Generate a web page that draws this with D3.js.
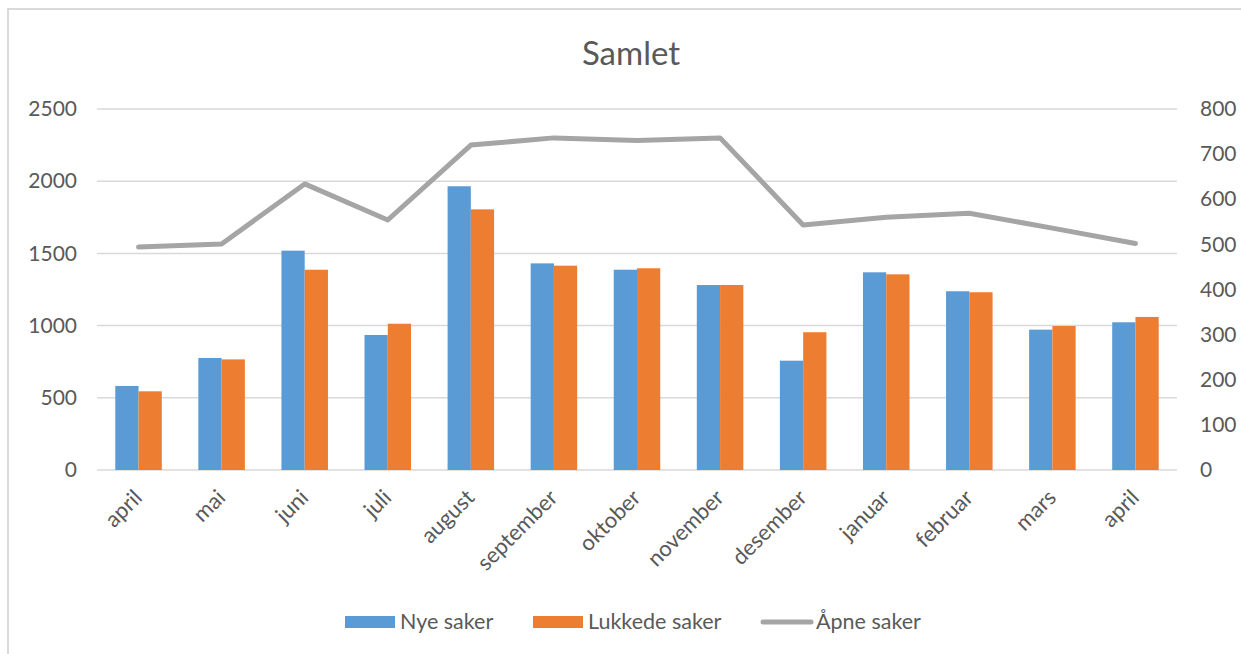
<!DOCTYPE html>
<html>
<head>
<meta charset="utf-8">
<script src="https://cdn.jsdelivr.net/npm/d3@7"></script>
<style>
  body { margin: 0; background: #fff; }
  text { font-family: Lato, "Open Sans", sans-serif; fill: #595959; }
</style>
</head>
<body>
<script>
// months (note: april appears twice, so we key the scale by index)
var months = ['april', 'mai', 'juni', 'juli', 'august', 'september', 'oktober',
    'november', 'desember', 'januar', 'februar', 'mars', 'april'];

// left axis series
var nyeSaker = [582, 776, 1519, 935, 1965, 1431, 1387, 1281, 757, 1369, 1238, 972, 1023];
var lukkedeSaker = [545, 766, 1387, 1013, 1805, 1415, 1397, 1281, 954, 1355, 1231, 997, 1060];

// right axis series
var apneSaker = [494, 501, 634, 554, 720, 736, 730, 736, 543, 560, 569, 536, 502];

var leftTicks = [0, 500, 1000, 1500, 2000, 2500];
var rightTicks = [0, 100, 200, 300, 400, 500, 600, 700, 800];

var W = 1241, H = 654;
var plot = { left: 97, right: 1177, top: 109, bottom: 470 };

var svg = d3.select('body').append('svg')
    .attr('width', W)
    .attr('height', H);

// light frame round the chart, like the Excel chart area
svg.append('rect')
    .attr('x', 8).attr('y', 9)
    .attr('width', W + 20).attr('height', H + 20)
    .attr('fill', 'none')
    .attr('stroke', '#d9d9d9')
    .attr('stroke-width', 2);

// scales
var x = d3.scaleBand()
    .domain(d3.range(months.length))
    .range([plot.left, plot.right])
    .paddingInner(0.44)
    .paddingOuter(0.22);

var xSub = d3.scaleBand()
    .domain(['nye', 'lukkede'])
    .range([0, x.bandwidth()]);

var yLeft = d3.scaleLinear().domain([0, 2500]).range([plot.bottom, plot.top]);
var yRight = d3.scaleLinear().domain([0, 800]).range([plot.bottom, plot.top]);

// title
svg.append('text')
    .attr('x', 631)
    .attr('y', 65)
    .attr('text-anchor', 'middle')
    .style('font-size', '33px')
    .text('Samlet');

// gridlines from the left axis
svg.append('g')
    .selectAll('line')
    .data(leftTicks)
    .enter().append('line')
    .attr('x1', plot.left)
    .attr('x2', plot.right)
    .attr('y1', function(d) { return yLeft(d); })
    .attr('y2', function(d) { return yLeft(d); })
    .attr('stroke', '#d9d9d9')
    .attr('stroke-width', 1.5);

// left axis labels
var axLeft = svg.append('g')
    .attr('transform', 'translate(' + (plot.left - 20) + ',0)')
    .call(d3.axisLeft(yLeft).tickValues(leftTicks).tickFormat(d3.format('d')).tickSize(0).tickPadding(0));
axLeft.select('.domain').remove();
axLeft.selectAll('text').style('font-size', '21px').style('font-family', null).attr('fill', null);

// right axis labels
var axRight = svg.append('g')
    .attr('transform', 'translate(' + (plot.right + 23) + ',0)')
    .call(d3.axisRight(yRight).tickValues(rightTicks).tickFormat(d3.format('d')).tickSize(0).tickPadding(0));
axRight.select('.domain').remove();
axRight.selectAll('text').style('font-size', '21px').style('font-family', null).attr('fill', null);

// grouped bars
var groups = svg.append('g')
    .selectAll('g')
    .data(months)
    .enter().append('g')
    .attr('transform', function(d, i) { return 'translate(' + x(i) + ',0)'; });

groups.append('rect')
    .attr('x', xSub('nye'))
    .attr('width', xSub.bandwidth())
    .attr('y', function(d, i) { return yLeft(nyeSaker[i]); })
    .attr('height', function(d, i) { return yLeft(0) - yLeft(nyeSaker[i]); })
    .attr('fill', '#5b9bd5');

groups.append('rect')
    .attr('x', xSub('lukkede'))
    .attr('width', xSub.bandwidth())
    .attr('y', function(d, i) { return yLeft(lukkedeSaker[i]); })
    .attr('height', function(d, i) { return yLeft(0) - yLeft(lukkedeSaker[i]); })
    .attr('fill', '#ed7d31');

// line for open cases on the right axis
var line = d3.line()
    .x(function(d, i) { return x(i) + x.bandwidth() / 2; })
    .y(function(d) { return yRight(d); });

svg.append('path')
    .datum(apneSaker)
    .attr('d', line)
    .attr('fill', 'none')
    .attr('stroke', '#a5a5a5')
    .attr('stroke-width', 5)
    .attr('stroke-linecap', 'round')
    .attr('stroke-linejoin', 'round');

// rotated month labels
svg.append('g')
    .selectAll('text')
    .data(months)
    .enter().append('text')
    .attr('transform', function(d, i) {
        var cx = x(i) + x.bandwidth() / 2 + 5;
        return 'translate(' + cx + ',499) rotate(-45)';
    })
    .attr('text-anchor', 'end')
    .style('font-size', '22px')
    .text(function(d) { return d; });

// legend
var legend = svg.append('g');
var legendItems = [
    { name: 'Nye saker', color: '#5b9bd5', type: 'bar', x: 345 },
    { name: 'Lukkede saker', color: '#ed7d31', type: 'bar', x: 533 },
    { name: 'Åpne saker', color: '#a5a5a5', type: 'line', x: 761 }
];

legendItems.forEach(function(item) {
    if (item.type === 'bar') {
        legend.append('rect')
            .attr('x', item.x).attr('y', 616)
            .attr('width', 50).attr('height', 12)
            .attr('fill', item.color);
    } else {
        legend.append('line')
            .attr('x1', item.x + 2).attr('x2', item.x + 50)
            .attr('y1', 622).attr('y2', 622)
            .attr('stroke', item.color)
            .attr('stroke-width', 5)
            .attr('stroke-linecap', 'round');
    }
    legend.append('text')
        .attr('x', item.x + 55)
        .attr('y', 629)
        .style('font-size', '21.5px')
        .text(item.name);
});
</script>
</body>
</html>
